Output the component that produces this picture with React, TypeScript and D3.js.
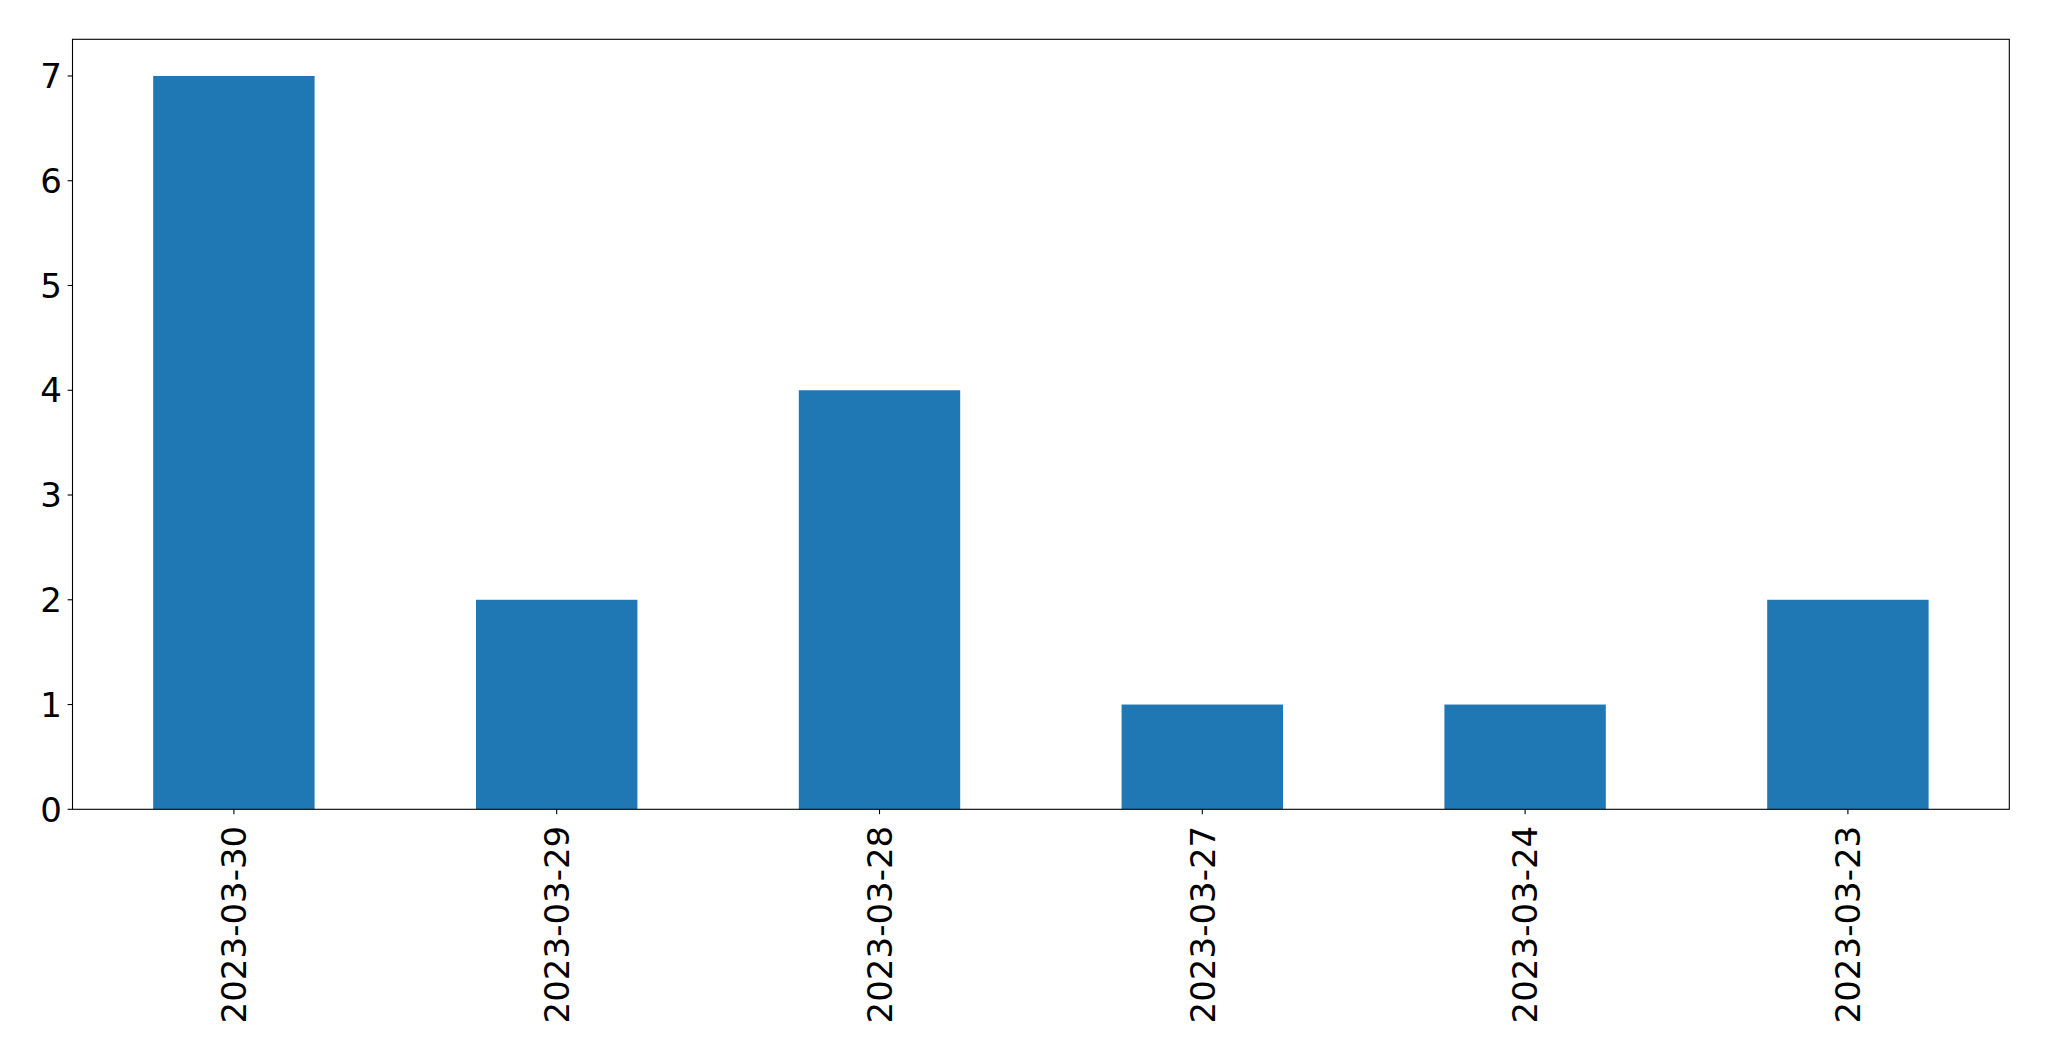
import React from "react";
import * as d3 from "d3";

const categories: string[] = ["2023-03-30", "2023-03-29", "2023-03-28", "2023-03-27", "2023-03-24", "2023-03-23"];
const values: number[] = [7, 2, 4, 1, 1, 2];
const yTicks: number[] = [0, 1, 2, 3, 4, 5, 6, 7];

const W = 2049;
const H = 1061;
const M = { left: 72.5, top: 39.3, right: 2009.3, bottom: 809.3 };
const FONT = "'DejaVu Sans', sans-serif";
const FS = 34;

export default function App() {
  const x = d3
    .scaleBand<string>()
    .domain(categories)
    .range([M.left, M.right])
    .paddingInner(0.5)
    .paddingOuter(0.25);
  const yMax = d3.max(values)! * 1.05;
  const y = d3.scaleLinear().domain([0, yMax]).range([M.bottom, M.top]);

  return (
    <svg
      width={W}
      height={H}
      style={{ position: "absolute", left: 0, top: 0, background: "#fff" }}
    >
      <rect x={0} y={0} width={W} height={H} fill="#fff" />
      {categories.map((c, i) => (
        <rect
          key={c}
          x={x(c)!}
          y={y(values[i])}
          width={x.bandwidth()}
          height={y(0) - y(values[i])}
          fill="#1f77b4"
        />
      ))}
      <rect
        x={M.left}
        y={M.top}
        width={M.right - M.left}
        height={M.bottom - M.top}
        fill="none"
        stroke="#000"
        strokeWidth={1.1}
      />
      {yTicks.map((t) => (
        <g key={t}>
          <line x1={M.left - 4.9} x2={M.left} y1={y(t)} y2={y(t)} stroke="#000" strokeWidth={1.1} />
          <text
            x={M.left - 10.5}
            y={y(t)}
            dy="0.36em"
            textAnchor="end"
            fontFamily={FONT}
            fontSize={FS}
            fill="#000"
          >
            {t}
          </text>
        </g>
      ))}
      {categories.map((c) => {
        const cx = x(c)! + x.bandwidth() / 2;
        return (
          <g key={c}>
            <line x1={cx} x2={cx} y1={M.bottom} y2={M.bottom + 4.9} stroke="#000" strokeWidth={1.1} />
            <text
              transform={`translate(${cx},${M.bottom + 16.5}) rotate(-90)`}
              dy="0.36em"
              textAnchor="end"
              fontFamily={FONT}
              fontSize={FS}
              fill="#000"
            >
              {c}
            </text>
          </g>
        );
      })}
    </svg>
  );
}
